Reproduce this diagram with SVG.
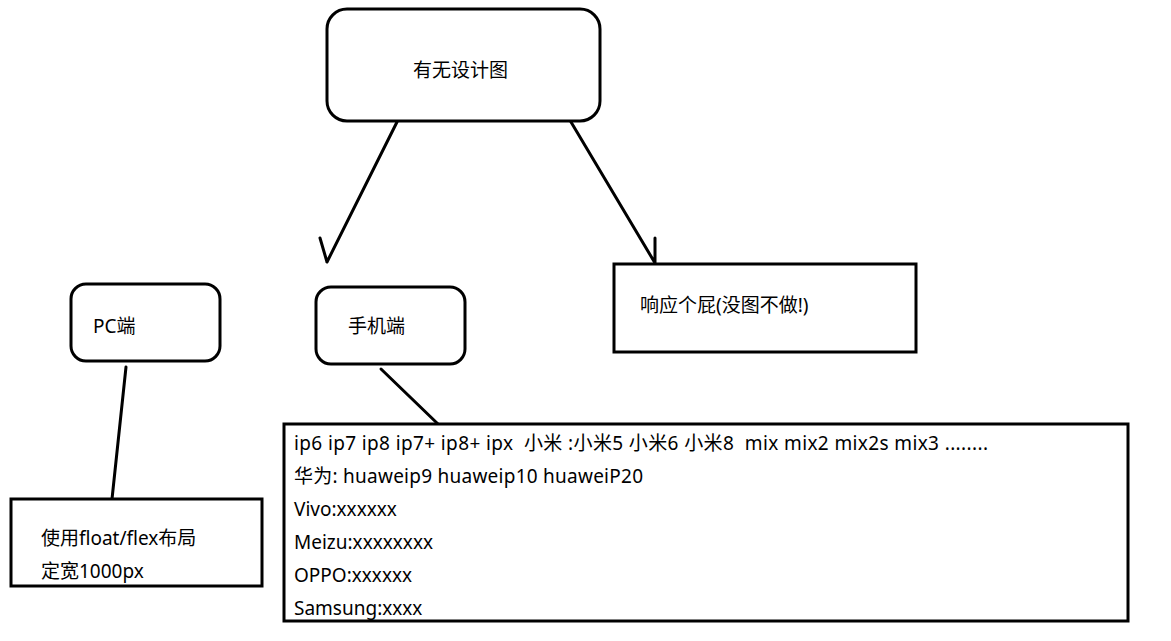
<svg xmlns="http://www.w3.org/2000/svg" width="1171" height="641" viewBox="0 0 1171 641">
<style>
.box{fill:#fff;stroke:#000;stroke-width:3}
.ln{stroke:#000;stroke-width:3;fill:none;stroke-linecap:round}
text{font-family:"Noto Sans","Noto Sans CJK SC",sans-serif;font-size:19px;fill:#000;white-space:pre}
</style>
<rect width="1171" height="641" fill="#fff"/>
<g id="connectors">
<path class="ln" d="M397,122 L327,262 M320,238 L327,262"/>
<path class="ln" d="M571,122 L655,263 M655,238 L655,263"/>
<path class="ln" d="M126,367 L112,499"/>
<path class="ln" d="M381,369 L438,424"/>
</g>
<g id="top"><rect class="box" x="327" y="9" width="273" height="112" rx="20"/><text x="413" y="77">有无设计图</text></g>
<g id="pc"><rect class="box" x="71" y="284" width="149" height="77" rx="15"/><text x="93" y="333">PC端</text></g>
<g id="mobile"><rect class="box" x="316" y="287" width="149" height="77" rx="15"/><text x="348" y="333">手机端</text></g>
<g id="responsive"><rect class="box" x="614" y="264" width="302" height="88"/><text x="640" y="312">响应个屁(没图不做!)</text></g>
<g id="pcdetail"><rect class="box" x="11" y="499" width="251" height="87"/><text x="41" y="545">使用float/flex布局</text><text x="41" y="578">定宽1000px</text></g>
<g id="mobiledetail"><rect class="box" x="284" y="424" width="844" height="197"/>
<text x="294" y="450" xml:space="preserve" textLength="694" lengthAdjust="spacing">ip6 ip7 ip8 ip7+ ip8+ ipx  小米 :小米5 小米6 小米8  mix mix2 mix2s mix3 ........</text>
<text x="294" y="483" textLength="349" lengthAdjust="spacing">华为: huaweip9 huaweip10 huaweiP20</text>
<text x="294" y="516">Vivo:xxxxxx</text>
<text x="294" y="549">Meizu:xxxxxxxx</text>
<text x="294" y="582">OPPO:xxxxxx</text>
<text x="294" y="615">Samsung:xxxx</text>
</g>
</svg>
